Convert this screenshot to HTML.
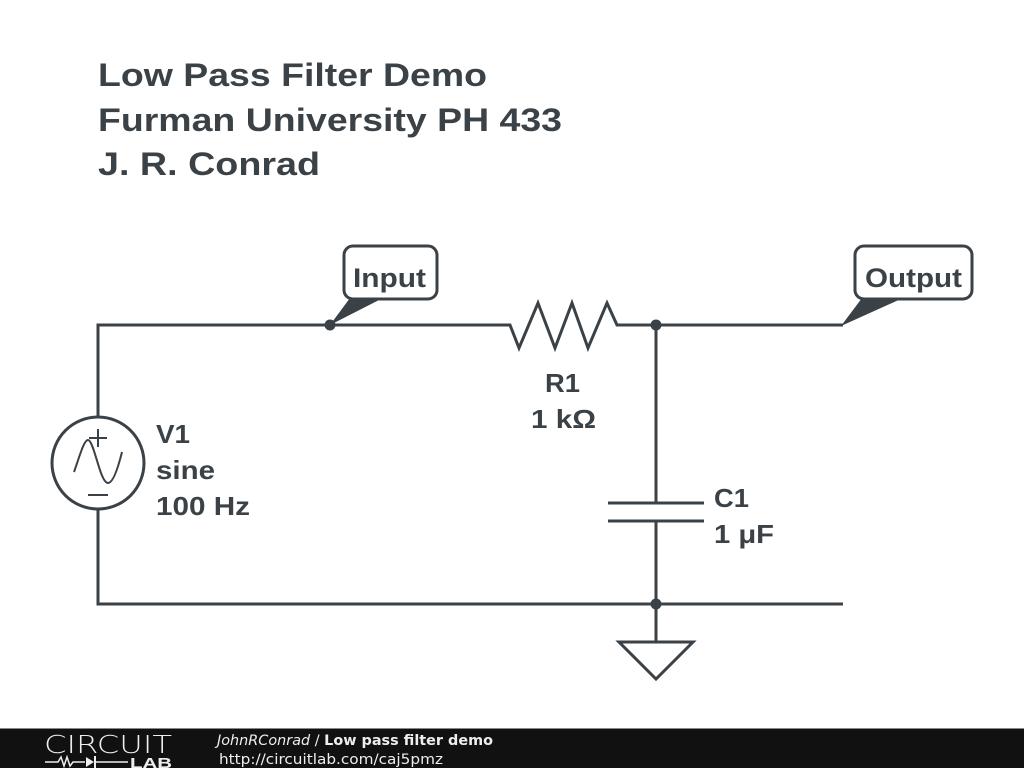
<!DOCTYPE html>
<html><head><meta charset="utf-8"><style>
html,body{margin:0;padding:0;background:#fff;width:1024px;height:768px;overflow:hidden}
svg{display:block}
</style></head><body>
<svg width="1024" height="768" viewBox="0 0 1024 768" xmlns="http://www.w3.org/2000/svg">
<g font-family="Liberation Sans, Arial, sans-serif" font-weight="bold" fill="#3b4247">
<text x="98" y="86" font-size="32" textLength="389" lengthAdjust="spacingAndGlyphs">Low Pass Filter Demo</text>
<text x="98" y="131" font-size="32" textLength="464" lengthAdjust="spacingAndGlyphs">Furman University PH 433</text>
<text x="98" y="175" font-size="32" textLength="222" lengthAdjust="spacingAndGlyphs">J. R. Conrad</text>
<text x="545" y="392" font-size="26" textLength="35" lengthAdjust="spacingAndGlyphs">R1</text>
<text x="531" y="428" font-size="26" textLength="65" lengthAdjust="spacingAndGlyphs">1 kΩ</text>
<text x="156" y="443" font-size="26" textLength="34" lengthAdjust="spacingAndGlyphs">V1</text>
<text x="156" y="479" font-size="26" textLength="59" lengthAdjust="spacingAndGlyphs">sine</text>
<text x="156" y="515" font-size="26" textLength="94" lengthAdjust="spacingAndGlyphs">100 Hz</text>
<text x="714" y="507" font-size="26" textLength="35" lengthAdjust="spacingAndGlyphs">C1</text>
<text x="714" y="543" font-size="26" textLength="60" lengthAdjust="spacingAndGlyphs">1 μF</text>
<text x="353" y="287" font-size="27" textLength="73" lengthAdjust="spacingAndGlyphs">Input</text>
<text x="865" y="287" font-size="27" textLength="97" lengthAdjust="spacingAndGlyphs">Output</text>
</g>
<g stroke="#3b4247" stroke-width="3" fill="none" stroke-linejoin="miter">
<polyline points="98,418 98,325 510,325 519,348 538,303 555,348 572,303 588,348 607,303 617,325 843,325"/>
<polyline points="98,508 98,604 843,604"/>
<line x1="656" y1="325" x2="656" y2="503"/>
<line x1="656" y1="521" x2="656" y2="642"/>
<line x1="608" y1="503" x2="704" y2="503"/>
<line x1="608" y1="521" x2="704" y2="521"/>
<polygon points="619,642 693,642 656,679"/>
<circle cx="98" cy="463" r="46"/>
<line x1="98" y1="429" x2="98" y2="447" stroke-width="2"/>
<line x1="89" y1="438" x2="107" y2="438" stroke-width="2"/>
<line x1="88" y1="495" x2="108" y2="495" stroke-width="2"/>
<path d="M74,472 C80,455 84,440 88,440 C94,440 100,483 108,483 C113,483 118,468 122,452" stroke-width="2"/>
<rect x="344" y="246" width="93" height="53" rx="9"/>
<rect x="855" y="246" width="117" height="53" rx="9"/>
</g>
<g fill="#3b4247">
<circle cx="330" cy="325" r="5.5"/>
<circle cx="656" cy="325" r="5.5"/>
<circle cx="656" cy="604" r="5.5"/>
<polygon points="350,298 383,298 330,325"/>
<polygon points="862,298 903,298 841,326"/>
</g>
<rect x="0" y="728" width="1024" height="40" fill="#111"/>
<line x1="0" y1="728.5" x2="1024" y2="728.5" stroke="#888"/>
<g fill="#eee" font-family="DejaVu Sans, sans-serif">
<text x="44" y="753" font-size="25" textLength="128" lengthAdjust="spacingAndGlyphs" style="font-weight:200">CIRCUIT</text>
<polyline points="45,762 58,762 61,757 64,766 67,757 70,766 73,762 85,762" stroke="#eee" stroke-width="1.5" fill="none"/>
<polygon points="86,757 86,767 94,762"/>
<line x1="95" y1="756" x2="95" y2="768" stroke="#eee" stroke-width="2"/>
<line x1="95" y1="762" x2="128" y2="762" stroke="#eee" stroke-width="1.5"/>
<text x="130" y="768" font-size="15" font-weight="bold" font-family="Liberation Sans, sans-serif" textLength="42" lengthAdjust="spacingAndGlyphs">LAB</text>
<text x="217" y="745" font-size="14" textLength="276" lengthAdjust="spacingAndGlyphs"><tspan font-style="italic">JohnRConrad</tspan> / <tspan font-weight="bold">Low pass filter demo</tspan></text>
<text x="219" y="764" font-size="14" textLength="224" lengthAdjust="spacingAndGlyphs">http://circuitlab.com/caj5pmz</text>
</g>
</svg>
</body></html>
